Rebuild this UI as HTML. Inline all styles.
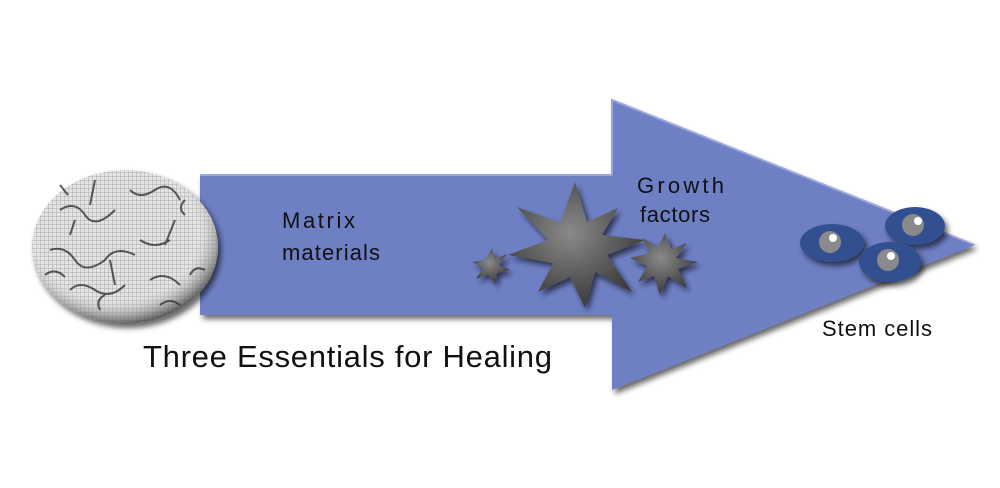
<!DOCTYPE html>
<html><head><meta charset="utf-8"><style>
body{margin:0;background:#fff;width:1000px;height:488px;overflow:hidden}
svg{display:block}
text{font-family:"Liberation Sans",sans-serif;fill:#111}
</style></head><body>
<svg width="1000" height="488" viewBox="0 0 1000 488">
<defs>
<filter id="sh" x="-10%" y="-10%" width="130%" height="130%"><feGaussianBlur in="SourceAlpha" stdDeviation="3"/><feOffset dx="3" dy="4"/><feComponentTransfer><feFuncA type="linear" slope="0.6"/></feComponentTransfer><feMerge><feMergeNode/><feMergeNode in="SourceGraphic"/></feMerge></filter>
<pattern id="grid" width="4" height="4" patternUnits="userSpaceOnUse"><rect width="4" height="4" fill="#e4e4e4"/><path d="M0 0H4M0 0V4" stroke="#aaa" stroke-width="1"/></pattern>
<radialGradient id="eg" cx="45%" cy="40%" r="60%"><stop offset="0.7" stop-color="#fff" stop-opacity="0"/><stop offset="1" stop-color="#444" stop-opacity="0.8"/></radialGradient>
<radialGradient id="st" cx="45%" cy="40%" r="60%"><stop offset="0" stop-color="#8a8a8a"/><stop offset="1" stop-color="#3a3a3a"/></radialGradient>
</defs>
<g filter="url(#sh)">
<polygon points="200,175 612,175 612,100 975,245 612,390 612,315 200,315" fill="#6e7fc4"/>
</g>
<polyline points="612,175 612,100 975,245" fill="none" stroke="#9aa6dc" stroke-width="2"/>
<line x1="200" y1="175" x2="612" y2="175" stroke="#9aa6dc" stroke-width="2"/>
<g filter="url(#sh)">
<ellipse cx="125" cy="247" rx="93" ry="77" fill="url(#grid)"/>
<ellipse cx="125" cy="247" rx="93" ry="77" fill="url(#eg)"/>
</g>
<g stroke="#333" stroke-width="2" fill="none" opacity="0.8">
<path d="M60 210 q15 -10 25 5 t30 -5 M130 190 q10 10 25 0 t25 10 M50 250 q15 -5 25 10 t30 0 q10-15 30-5 M140 240 q15 10 30 0 M70 290 q10-10 25 0 t30-5 M150 280 q15 -10 30 5 M95 180 l-5 25 M175 220 l-10 25 M110 260 l5 25 M70 235 l5 -15 M190 275 q5-10 15-5 M45 275 q10-8 20 2 M160 305 q10-8 20 0 M100 310 q-5-10 5-15 M185 200 q-8 8 0 15 M60 185 l8 10"/>
</g>
<text x="282" y="228" font-size="22" textLength="73">Matrix</text>
<text x="282" y="260" font-size="22" textLength="98">materials</text>
<text x="143" y="367" font-size="31" textLength="409">Three Essentials for Healing</text>
<text x="637" y="193" font-size="22" textLength="87">Growth</text>
<text x="640" y="222" font-size="22" textLength="70">factors</text>
<text x="822" y="336" font-size="22" textLength="110">Stem cells</text>
<g filter="url(#sh)">
<polygon fill="url(#st)" points="575,182 587,222 618,208 602,235 645,240 607,255 632,292 595,272 585,308 570,277 538,292 553,263 508,255 548,240 517,207 560,223" />
<polygon fill="url(#st)" points="665,233 671,249 687,243 676,258 698,262 678,269 687,288 668,276 660,295 654,276 638,282 647,266 630,258 649,253 643,238 658,247"/>
<polygon fill="url(#st)" points="492,248 495,259 507,254 499,265 510,270 497,273 495,284 488,274 476,279 483,268 472,262 485,260"/>
</g>
<g filter="url(#sh)">
<ellipse cx="832" cy="243" rx="32" ry="19" fill="#30508f"/>
<ellipse cx="915" cy="226" rx="30" ry="19" fill="#30508f"/>
<ellipse cx="890" cy="262" rx="31" ry="20" fill="#30508f"/>
</g>
<circle cx="830" cy="242" r="11" fill="#8a8a8e"/><circle cx="833" cy="238" r="4" fill="#fff"/>
<circle cx="913" cy="225" r="11" fill="#8a8a8e"/><circle cx="918" cy="221" r="4" fill="#fff"/>
<circle cx="888" cy="260" r="11" fill="#8a8a8e"/><circle cx="891" cy="256" r="4" fill="#fff"/>
</svg>
</body></html>
